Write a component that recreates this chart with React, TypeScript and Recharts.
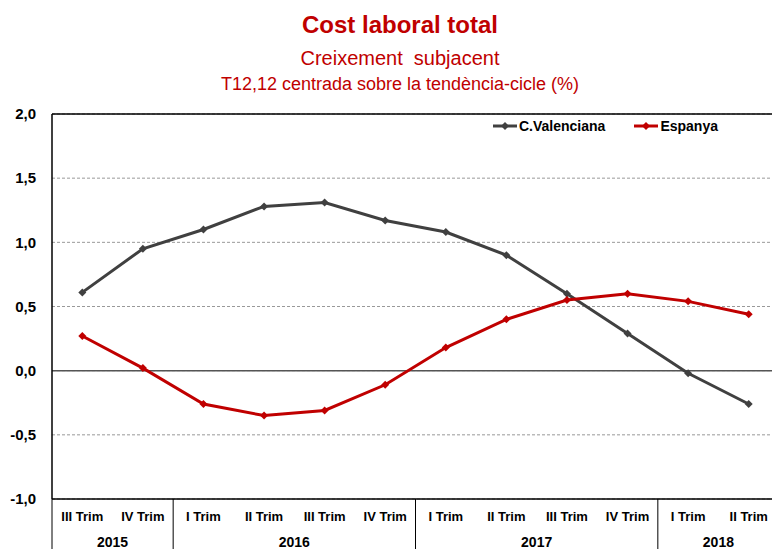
import React from "react";
import {
  LineChart,
  Line,
  XAxis,
  YAxis,
  CartesianGrid,
  ReferenceLine,
} from "recharts";

const quarters = [
  "III Trim", "IV Trim",
  "I Trim", "II Trim", "III Trim", "IV Trim",
  "I Trim", "II Trim", "III Trim", "IV Trim",
  "I Trim", "II Trim",
];
const years = ["2015", "2015", "2016", "2016", "2016", "2016", "2017", "2017", "2017", "2017", "2018", "2018"];
const valenciana = [0.61, 0.95, 1.1, 1.28, 1.31, 1.17, 1.08, 0.9, 0.6, 0.29, -0.02, -0.26];
const espanya = [0.27, 0.02, -0.26, -0.35, -0.31, -0.11, 0.18, 0.4, 0.55, 0.6, 0.54, 0.44];
const yTicks = [-1, -0.5, 0, 0.5, 1, 1.5, 2];

const data = quarters.map((q, i) => ({
  q,
  year: years[i],
  valenciana: valenciana[i],
  espanya: espanya[i],
}));

const FONT = "'Liberation Sans', Arial, sans-serif";
const RED = "#c00000";
const GREY = "#404040";

const CHART_W = 790;
const CHART_H = 549;
const M = { top: 114, right: 11, left: 0, bottom: 0 };
const Y_W = 52;
const step = (CHART_W - M.left - M.right - Y_W) / quarters.length;

const fmt = (v: number) => v.toFixed(1).replace(".", ",");

const Diamond = (color: string) => (props: any) => {
  const { cx, cy, index } = props;
  if (cx == null || cy == null) return <g key={index} />;
  const r = 4;
  return (
    <polygon
      key={index}
      points={`${cx},${cy - r} ${cx + r},${cy} ${cx},${cy + r} ${cx - r},${cy}`}
      fill={color}
    />
  );
};

const QuarterTick = (props: any) => {
  const { x, y, index, payload } = props;
  const yr = years[index];
  const first = index === 0 || years[index - 1] !== yr;
  let count = 0;
  years.forEach((v) => {
    if (v === yr) count++;
  });
  const left = x - step / 2;
  return (
    <g>
      <text
        x={x}
        y={y + 22}
        textAnchor="middle"
        fontFamily={FONT}
        fontWeight="bold"
        fontSize={13}
        fill="#000"
      >
        {payload.value}
      </text>
      {first && (
        <>
          <line x1={left} y1={y} x2={left} y2={y + 50} stroke="#000" strokeWidth={1} />
          <text
            x={left + (count * step) / 2}
            y={y + 48}
            textAnchor="middle"
            fontFamily={FONT}
            fontWeight="bold"
            fontSize={14}
            fill="#000"
          >
            {yr}
          </text>
        </>
      )}
    </g>
  );
};

const LegendBox = () => (
  <div
    style={{
      position: "absolute",
      top: 118,
      left: 492,
      display: "flex",
      fontFamily: FONT,
      fontWeight: "bold",
      fontSize: 14,
      color: "#000",
      lineHeight: "16px",
    }}
  >
    {[
      { name: "C.Valenciana", color: GREY },
      { name: "Espanya", color: RED },
    ].map((s) => (
      <div key={s.name} style={{ display: "flex", alignItems: "center", marginRight: 28 }}>
        <svg width={26} height={10}>
          <line x1={1} y1={5} x2={25} y2={5} stroke={s.color} strokeWidth={3} />
          <polygon points="13,1 17,5 13,9 9,5" fill={s.color} />
        </svg>
        <span style={{ marginLeft: 1 }}>{s.name}</span>
      </div>
    ))}
  </div>
);

const App: React.FC = () => {
  return (
    <div
      style={{
        position: "absolute",
        left: 0,
        top: 0,
        width: 772,
        height: 549,
        overflow: "hidden",
        background: "#fff",
      }}
    >
      <div
        style={{
          position: "absolute",
          top: 0,
          left: 0,
          width: 800,
          textAlign: "center",
          color: RED,
          fontFamily: FONT,
        }}
      >
        <div style={{ position: "absolute", top: 11, width: "100%", fontSize: 24, fontWeight: "bold" }}>
          Cost laboral total
        </div>
        <div style={{ position: "absolute", top: 47, width: "100%", fontSize: 20 }}>
          Creixement&nbsp; subjacent
        </div>
        <div style={{ position: "absolute", top: 74, width: "100%", fontSize: 18 }}>
          T12,12 centrada sobre la tendència-cicle (%)
        </div>
      </div>
      <LineChart width={CHART_W} height={CHART_H} data={data} margin={M}>
        <CartesianGrid
          horizontal
          vertical={false}
          stroke="#999"
          strokeDasharray="3 2"
        />
        <XAxis
          dataKey="q"
          interval={0}
          height={50}
          padding={{ left: step / 2, right: step / 2 }}
          axisLine={{ stroke: "#000", strokeWidth: 1.5 }}
          tickLine={false}
          tickSize={0}
          tickMargin={0}
          tick={<QuarterTick />}
        />
        <YAxis
          domain={[-1, 2]}
          ticks={yTicks}
          width={Y_W}
          tickFormatter={fmt}
          axisLine={{ stroke: "#000", strokeWidth: 1.5 }}
          tickLine={false}
          tickMargin={10}
          tick={{ fontFamily: FONT, fontWeight: "bold", fontSize: 15, fill: "#000" }}
        />
        <ReferenceLine y={0} stroke="#555" strokeWidth={1.5} />
        <ReferenceLine y={2} stroke="#000" strokeWidth={1.5} />
        <Line
          type="linear"
          dataKey="valenciana"
          name="C.Valenciana"
          stroke={GREY}
          strokeWidth={3}
          dot={Diamond(GREY)}
          activeDot={false}
          isAnimationActive={false}
        />
        <Line
          type="linear"
          dataKey="espanya"
          name="Espanya"
          stroke={RED}
          strokeWidth={3}
          dot={Diamond(RED)}
          activeDot={false}
          isAnimationActive={false}
        />
      </LineChart>
      <LegendBox />
    </div>
  );
};

export default App;
